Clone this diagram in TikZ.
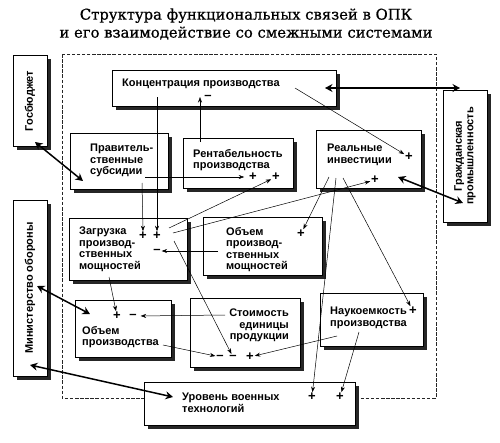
\documentclass[tikz,border=0pt]{standalone}
\usepackage{fontspec}
\setmainfont{Liberation Sans}
\newfontfamily\titlefont[BoldFont={DejaVu Serif}, BoldFeatures={FakeBold=0.7}]{DejaVu Serif}
\usetikzlibrary{arrows.meta,shadows}
\begin{document}
\begin{tikzpicture}[x=1pt,y=-1pt,
  box/.style={draw=black, line width=0.6pt, fill=white, inner sep=0pt, anchor=north west,
    drop shadow={shadow xshift=3.2pt, shadow yshift=-3.2pt, fill=black!85, opacity=1}},
  lbl/.style={font=\bfseries\fontsize{11}{11.5}\selectfont, inner sep=0pt, align=left, anchor=north west},
  rlbl/.style={font=\bfseries\fontsize{11}{11.5}\selectfont, inner sep=0pt, align=center, rotate=90},
  mk/.style={font=\bfseries\fontsize{13}{13}\selectfont, inner sep=0.8pt},
  thinarrow/.style={line width=0.5pt, -{Stealth[length=5.5pt,width=4pt]}},
  thickarrow/.style={line width=1.5pt, {Stealth[length=7.5pt,width=8pt,inset=2.5pt]}-{Stealth[length=7.5pt,width=8pt,inset=2.5pt]}},
  dashedframe/.style={line width=0.9pt, dash pattern=on 3.5pt off 1.6pt, draw=black!85},
]
\useasboundingbox (0,0) rectangle (500,442);
\fill[white] (0,0) rectangle (500,442);

% title
\node[font=\titlefont\bfseries\fontsize{14.8}{18}\selectfont, align=center, inner sep=0pt] (title) at (246,24)
  {Структура функциональных связей в ОПК\\и его взаимодействие со смежными системами};

% dashed frame
\draw[dashedframe] (62,54) rectangle (436,398);

% boxes
\node[box, minimum width=34pt, minimum height=91pt] (budget) at (13,55) {};
\node[box, minimum width=34pt, minimum height=176pt] (mod) at (13,200) {};
\node[box, minimum width=44pt, minimum height=132pt] (civ) at (443,90) {};
\node[box, minimum width=224pt, minimum height=36pt] (conc) at (112,70) {};
\node[box, minimum width=98pt, minimum height=56pt] (gov) at (70,133) {};
\node[box, minimum width=110pt, minimum height=50pt] (rent) at (183,138) {};
\node[box, minimum width=105pt, minimum height=58pt] (inv) at (316,130) {};
\node[box, minimum width=118pt, minimum height=62pt] (load) at (69,218) {};
\node[box, minimum width=119pt, minimum height=58pt] (vpm) at (203,217) {};
\node[box, minimum width=96pt, minimum height=57pt] (vol) at (75,300) {};
\node[box, minimum width=110pt, minimum height=69pt] (cost) at (190,298) {};
\node[box, minimum width=103pt, minimum height=53pt] (sci) at (320,293) {};
\node[box, minimum width=211pt, minimum height=43pt] (tech) at (144,382) {};

% labels
\node[rlbl] (tbudget) at (30,101) {Госбюджет};
\node[rlbl] (tmod) at (30,288) {Министерство обороны};
\node[rlbl] (tciv) at (465,156) {Гражданская\\промышленность};
\node[lbl] (tconc) at (122,79) {Концентрация производства};
\node[lbl] (tgov) at (90,144) {Правитель-\\ственные\\субсидии};
\node[lbl] (trent) at (193,149) {Рентабельность\\производства};
\node[lbl] (tinv) at (327,144) {Реальные\\инвестиции};
\node[lbl] (tload) at (79,227) {Загрузка\\производ-\\ственных\\мощностей};
\node[lbl] (tvpm) at (226,227) {Объем\\производ-\\ственных\\мощностей};
\node[lbl] (tvol) at (82,326) {Объем\\производства};
\node[lbl, align=right, anchor=north east] (tcost) at (289,309) {Стоимость\\единицы\\продукции};
\node[lbl] (tsci) at (330,307) {Наукоемкость\\производства};
\node[lbl] (ttech) at (182,393) {Уровень военных\\технологий};

% signs
\node[mk] (mconc) at (208,97) {–};
\node[mk] (mrent1) at (253,177) {+};
\node[mk] (mrent2) at (276,177) {+};
\node[mk] (minv1) at (409,157) {+};
\node[mk] (minv2) at (375,180) {+};
\node[mk] (mload1) at (143,236) {+};
\node[mk] (mload2) at (157,236) {+};
\node[mk] (mload3) at (157,251) {–};
\node[mk] (mvpm) at (301,234) {+};
\node[mk] (mvol1) at (117,316) {+};
\node[mk] (mvol2) at (133,316) {–};
\node[mk] (mcost1) at (220,357) {–};
\node[mk] (mcost2) at (233,357) {–};
\node[mk] (mcost3) at (250,357) {+};
\node[mk] (msci) at (413,311) {+};
\node[mk] (mtech1) at (312,397) {+};
\node[mk] (mtech2) at (340,397) {+};

% connector end points
\coordinate (concR) at (325,88); \coordinate (civL) at (460,88);
\coordinate (concA) at (295,88);
\coordinate (concB) at (157,97);
\coordinate (concT) at (200,97);
\coordinate (rentU) at (200,142);
\coordinate (govR) at (145,177);
\coordinate (govD) at (142,183);
\coordinate (loadA) at (169,228);
\coordinate (loadB) at (173,233);
\coordinate (loadC) at (174,241);
\coordinate (loadD) at (109,277);
\coordinate (vpmL) at (218,251);
\coordinate (invA) at (329,177);
\coordinate (invB) at (336,178);
\coordinate (invC) at (343,178);
\coordinate (costL) at (225,315);
\coordinate (volR) at (163,345);
\coordinate (sciA) at (337,336);
\coordinate (sciB) at (359,332);
\coordinate (budA) at (35,142); \coordinate (govA) at (83,181);
\coordinate (modA) at (37,286); \coordinate (volA) at (90,314);
\coordinate (modB) at (30,365); \coordinate (techA) at (173,397);
\coordinate (invD) at (398,177); \coordinate (civA) at (463,203);

% thin arrows
\draw[thinarrow] (concA) -- (minv1);
\draw[thinarrow] (concB) -- (mload2.north);
\draw[thinarrow] (rentU) -- (concT);
\draw[thinarrow, shorten >=4pt] (govR) -- (mrent1.west);
\draw[thinarrow] (govD) -- (mload1.north);
\draw[thinarrow] (loadA) -- (mrent2);
\draw[thinarrow] (loadB) -- (minv2);
\draw[thinarrow] (vpmL) -- (mload3);
\draw[thinarrow] (invA) -- (mvpm);
\draw[thinarrow] (invB) -- (mtech1);
\draw[thinarrow] (invC) -- (msci);
\draw[thinarrow] (loadC) -- (mcost2);
\draw[thinarrow] (loadD) -- (mvol1);
\draw[thinarrow, shorten >=3pt] (costL) -- (mvol2.east);
\draw[thinarrow] (volR) -- (mcost1);
\draw[thinarrow] (sciA) -- (mcost3);
\draw[thinarrow] (sciB) -- (mtech2);

% thick double arrows
\draw[thickarrow] (concR) -- (civL);
\draw[thickarrow] (budA) -- (govA);
\draw[thickarrow] (modA) -- (volA);
\draw[thickarrow] (modB) -- (techA);
\draw[thickarrow] (invD) -- (civA);
\end{tikzpicture}
\end{document}
